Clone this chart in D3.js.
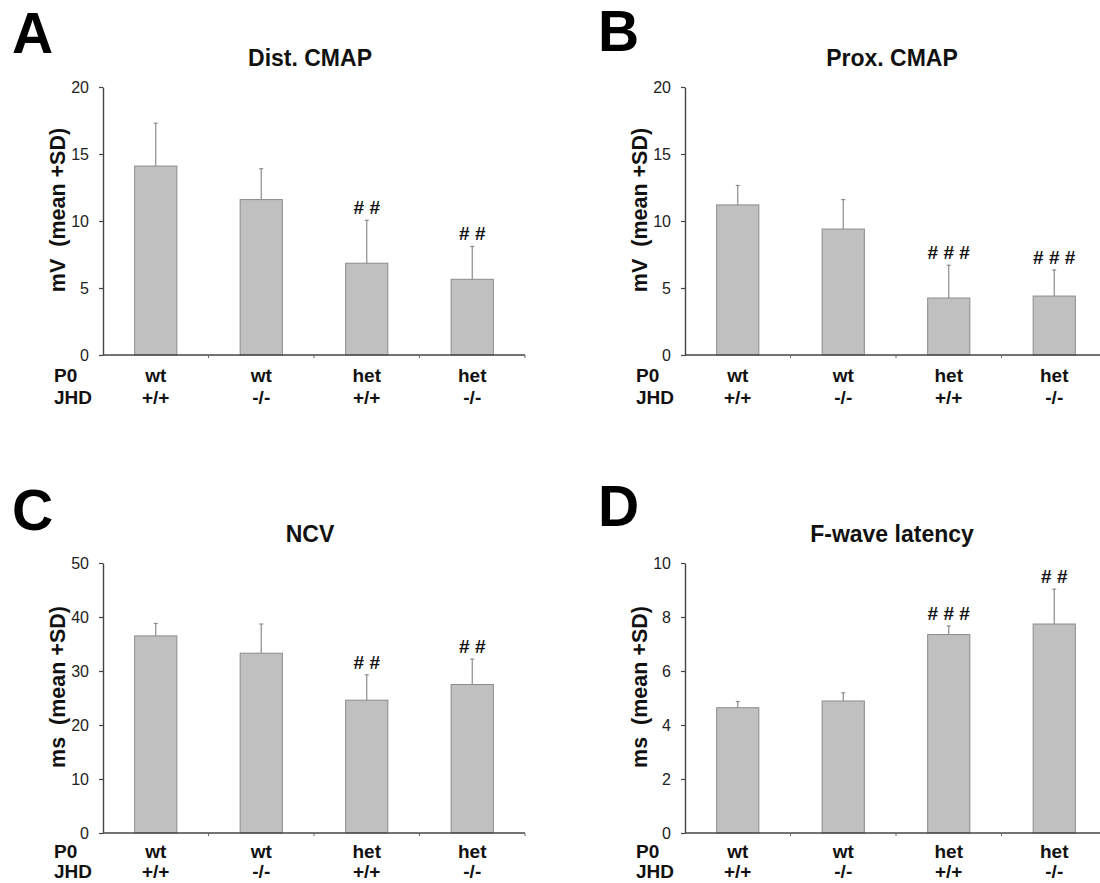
<!DOCTYPE html>
<html>
<head>
<meta charset="utf-8">
<script src="https://cdn.jsdelivr.net/npm/d3@7/dist/d3.min.js"></script>
<style>
  html, body { margin: 0; padding: 0; background: #fff; }
  svg { display: block; }
  text { font-family: "Liberation Sans", Arial, sans-serif; }
</style>
</head>
<body>
<svg id="chart" width="1100" height="883"></svg>
<script>
// ---- data ----
const groupP0  = ["wt", "wt", "het", "het"];
const groupJHD = ["+/+", "-/-", "+/+", "-/-"];

const distTitle = "Dist. CMAP";
const distMean  = [14.1, 11.6, 6.85, 5.65];
const distSD    = [3.2, 2.3, 3.2, 2.45];
const distMarks = ["", "", "# #", "# #"];
const distTicks = [0, 5, 10, 15, 20];

const proxTitle = "Prox. CMAP";
const proxMean  = [11.2, 9.4, 4.25, 4.4];
const proxSD    = [1.45, 2.2, 2.45, 1.95];
const proxMarks = ["", "", "# # #", "# # #"];
const proxTicks = [0, 5, 10, 15, 20];

const ncvTitle = "NCV";
const ncvMean  = [36.5, 33.3, 24.6, 27.5];
const ncvSD    = [2.3, 5.4, 4.7, 4.7];
const ncvMarks = ["", "", "# #", "# #"];
const ncvTicks = [0, 10, 20, 30, 40, 50];

const fwTitle = "F-wave latency";
const fwMean  = [4.64, 4.89, 7.35, 7.74];
const fwSD    = [0.23, 0.30, 0.32, 1.29];
const fwMarks = ["", "", "# # #", "# #"];
const fwTicks = [0, 2, 4, 6, 8, 10];

const panels = [
  { letter: "A", title: distTitle, unit: "mV", mean: distMean, sd: distSD, marks: distMarks, ticks: distTicks,
    x0: 103, top: 87, h: 268, lx: 12, ly: 53, rowGap: [27, 49] },
  { letter: "B", title: proxTitle, unit: "mV", mean: proxMean, sd: proxSD, marks: proxMarks, ticks: proxTicks,
    x0: 685, top: 87, h: 268, lx: 598, ly: 51, rowGap: [27, 49] },
  { letter: "C", title: ncvTitle, unit: "ms", mean: ncvMean, sd: ncvSD, marks: ncvMarks, ticks: ncvTicks,
    x0: 103, top: 563, h: 270, lx: 12, ly: 530, rowGap: [25, 45] },
  { letter: "D", title: fwTitle, unit: "ms", mean: fwMean, sd: fwSD, marks: fwMarks, ticks: fwTicks,
    x0: 685, top: 563, h: 270, lx: 598, ly: 526, rowGap: [25, 45] }
];

const svg = d3.select("#chart");
const plotW = 422;

panels.forEach(p => {
  const g = svg.append("g");
  const yBot = p.top + p.h;
  const idx = d3.range(p.mean.length);

  const x = d3.scaleBand().domain(idx).range([p.x0, p.x0 + plotW])
    .paddingInner(0.6).paddingOuter(0.3);
  const step = x.step();
  const y = d3.scaleLinear().domain([0, d3.max(p.ticks)]).range([yBot, p.top]);

  // panel letter
  g.append("text").attr("x", p.lx).attr("y", p.ly)
    .attr("font-size", 57).attr("font-weight", "bold").attr("fill", "#000")
    .text(p.letter);

  // title
  g.append("text").attr("x", p.x0 + plotW / 2 - 4).attr("y", p.top - 21)
    .attr("text-anchor", "middle").attr("font-size", 23).attr("font-weight", "bold")
    .attr("fill", "#111").text(p.title);

  // y-axis title
  g.append("text")
    .attr("transform", `translate(${p.x0 - 38},${(p.top + yBot) / 2 - 11}) rotate(-90)`)
    .attr("text-anchor", "middle").attr("font-size", 21.5).attr("font-weight", "bold")
    .attr("fill", "#111").attr("xml:space", "preserve")
    .text(p.unit + "  (mean +SD)");

  // bars
  g.selectAll("rect.bar").data(idx).join("rect")
    .attr("class", "bar")
    .attr("x", i => x(i)).attr("width", x.bandwidth())
    .attr("y", i => y(p.mean[i])).attr("height", i => yBot - y(p.mean[i]))
    .attr("fill", "#c0c0c0").attr("stroke", "#8c8c8c").attr("stroke-width", 1);

  // error bars (upper only)
  const cx = i => x(i) + x.bandwidth() / 2;
  g.selectAll("line.err").data(idx).join("line")
    .attr("class", "err")
    .attr("x1", cx).attr("x2", cx)
    .attr("y1", i => y(p.mean[i])).attr("y2", i => y(p.mean[i] + p.sd[i]))
    .attr("stroke", "#8c8c8c").attr("stroke-width", 1.2);
  g.selectAll("line.cap").data(idx).join("line")
    .attr("class", "cap")
    .attr("x1", i => cx(i) - 2).attr("x2", i => cx(i) + 2)
    .attr("y1", i => y(p.mean[i] + p.sd[i])).attr("y2", i => y(p.mean[i] + p.sd[i]))
    .attr("stroke", "#8c8c8c").attr("stroke-width", 1.2);

  // significance marks
  g.selectAll("text.mark").data(idx.filter(i => p.marks[i])).join("text")
    .attr("class", "mark")
    .attr("x", cx).attr("y", i => y(p.mean[i] + p.sd[i]) - 6)
    .attr("text-anchor", "middle").attr("font-size", 19).attr("font-weight", "bold")
    .attr("fill", "#111").attr("xml:space", "preserve")
    .text(i => p.marks[i]);

  // y axis
  const yAxis = d3.axisLeft(y).tickValues(p.ticks).tickSize(4).tickSizeOuter(0).tickPadding(10);
  const ya = g.append("g").attr("transform", `translate(${p.x0},0)`).call(yAxis);
  ya.select(".domain").attr("stroke", "#444").attr("stroke-width", 1.4);
  ya.selectAll(".tick line").attr("stroke", "#444").attr("stroke-width", 1.2);
  ya.selectAll(".tick text").attr("font-size", 16).attr("fill", "#222")
    .attr("font-family", "'Liberation Sans', Arial, sans-serif");

  // x axis line + boundary ticks
  g.append("line").attr("x1", p.x0).attr("x2", p.x0 + plotW)
    .attr("y1", yBot).attr("y2", yBot).attr("stroke", "#444").attr("stroke-width", 1.6);
  const bounds = idx.map(i => x(i) + x.bandwidth() / 2 + step / 2);
  g.selectAll("line.xt").data(bounds).join("line")
    .attr("class", "xt")
    .attr("x1", d => d).attr("x2", d => d).attr("y1", yBot).attr("y2", yBot + 3)
    .attr("stroke", "#666").attr("stroke-width", 1);

  // category labels
  const rowP0 = yBot + p.rowGap[0], rowJHD = yBot + p.rowGap[1];
  g.append("text").attr("x", p.x0 - 49).attr("y", rowP0)
    .attr("font-size", 19).attr("font-weight", "bold").attr("fill", "#111").text("P0");
  g.append("text").attr("x", p.x0 - 49).attr("y", rowJHD)
    .attr("font-size", 19).attr("font-weight", "bold").attr("fill", "#111").text("JHD");
  g.selectAll("text.p0").data(idx).join("text")
    .attr("class", "p0").attr("x", cx).attr("y", rowP0)
    .attr("text-anchor", "middle").attr("font-size", 19).attr("font-weight", "bold")
    .attr("fill", "#111").text(i => groupP0[i]);
  g.selectAll("text.jhd").data(idx).join("text")
    .attr("class", "jhd").attr("x", cx).attr("y", rowJHD)
    .attr("text-anchor", "middle").attr("font-size", 19).attr("font-weight", "bold")
    .attr("fill", "#111").text(i => groupJHD[i]);
});
</script>
</body>
</html>
